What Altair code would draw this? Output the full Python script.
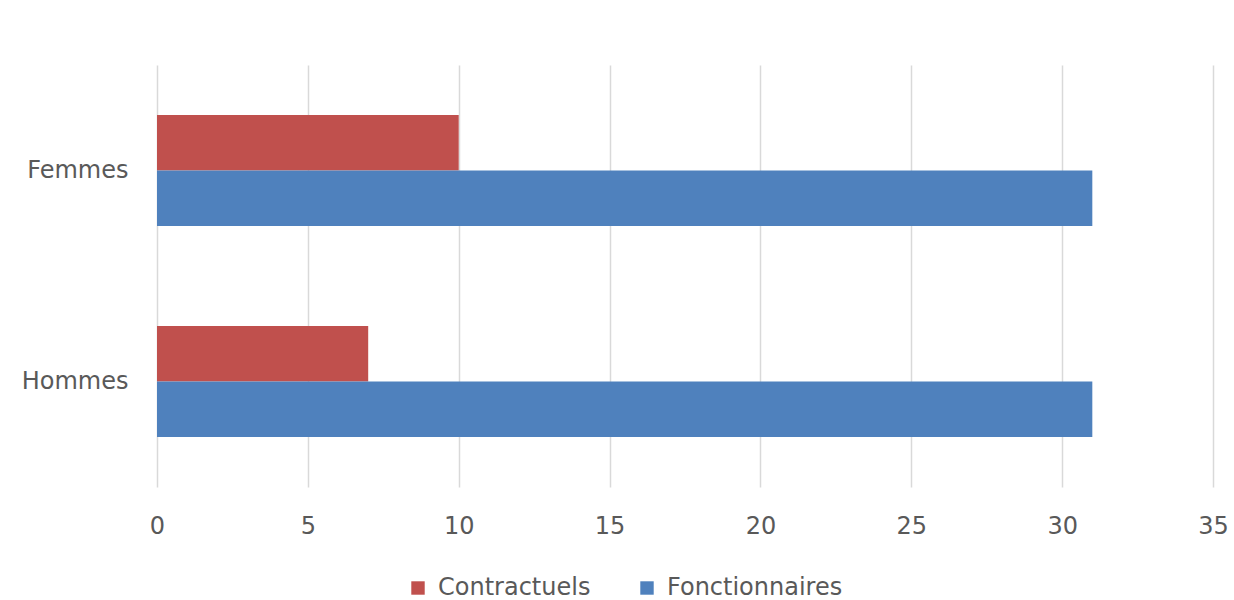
import altair as alt
import pandas as pd

categories = ["Femmes", "Hommes"]
series = ["Contractuels", "Fonctionnaires"]
contractuels = [10, 7]
fonctionnaires = [31, 31]
x_ticks = [0, 5, 10, 15, 20, 25, 30, 35]

rows = []
for i, c in enumerate(categories):
    rows.append({"sexe": c, "statut": series[0], "valeur": contractuels[i]})
    rows.append({"sexe": c, "statut": series[1], "valeur": fonctionnaires[i]})
df = pd.DataFrame(rows)

FONT = "DejaVu Sans"
GRAY = "#595959"
FS = 24

chart = alt.Chart(df).mark_bar().encode(
    x=alt.X("valeur:Q",
            scale=alt.Scale(domain=[0, 35], nice=False),
            axis=alt.Axis(values=x_ticks, title=None, domain=False, ticks=False,
                          labelPadding=27, labelFontSize=FS, labelColor=GRAY,
                          labelFont=FONT, labelFlush=False, grid=True,
                          gridColor="#d9d9d9", gridWidth=1.5)),
    y=alt.Y("sexe:N", sort=categories,
            scale=alt.Scale(paddingInner=0.474, paddingOuter=0.237),
            axis=alt.Axis(title=None, domain=False, ticks=False, labelPadding=29,
                          labelFontSize=FS, labelColor=GRAY, labelFont=FONT,
                          grid=False)),
    yOffset=alt.YOffset("statut:N", sort=series),
    color=alt.Color("statut:N", sort=series,
                    scale=alt.Scale(domain=series, range=["#C0504D", "#4F81BD"]),
                    legend=alt.Legend(title=None, orient="none", direction="horizontal",
                                      legendX=249, legendY=511, symbolType="square",
                                      symbolSize=180, symbolStrokeWidth=0,
                                      labelFontSize=FS, labelColor=GRAY, labelFont=FONT,
                                      labelLimit=400, labelOffset=8, columnPadding=44)),
).properties(
    width=1056, height=422,
    autosize=alt.AutoSizeParams(type="none"),
    padding={"left": 157, "top": 65, "right": 21, "bottom": 113},
).configure_view(stroke=None)

chart.save("out.html", embed_options={"renderer": "svg", "actions": False})
